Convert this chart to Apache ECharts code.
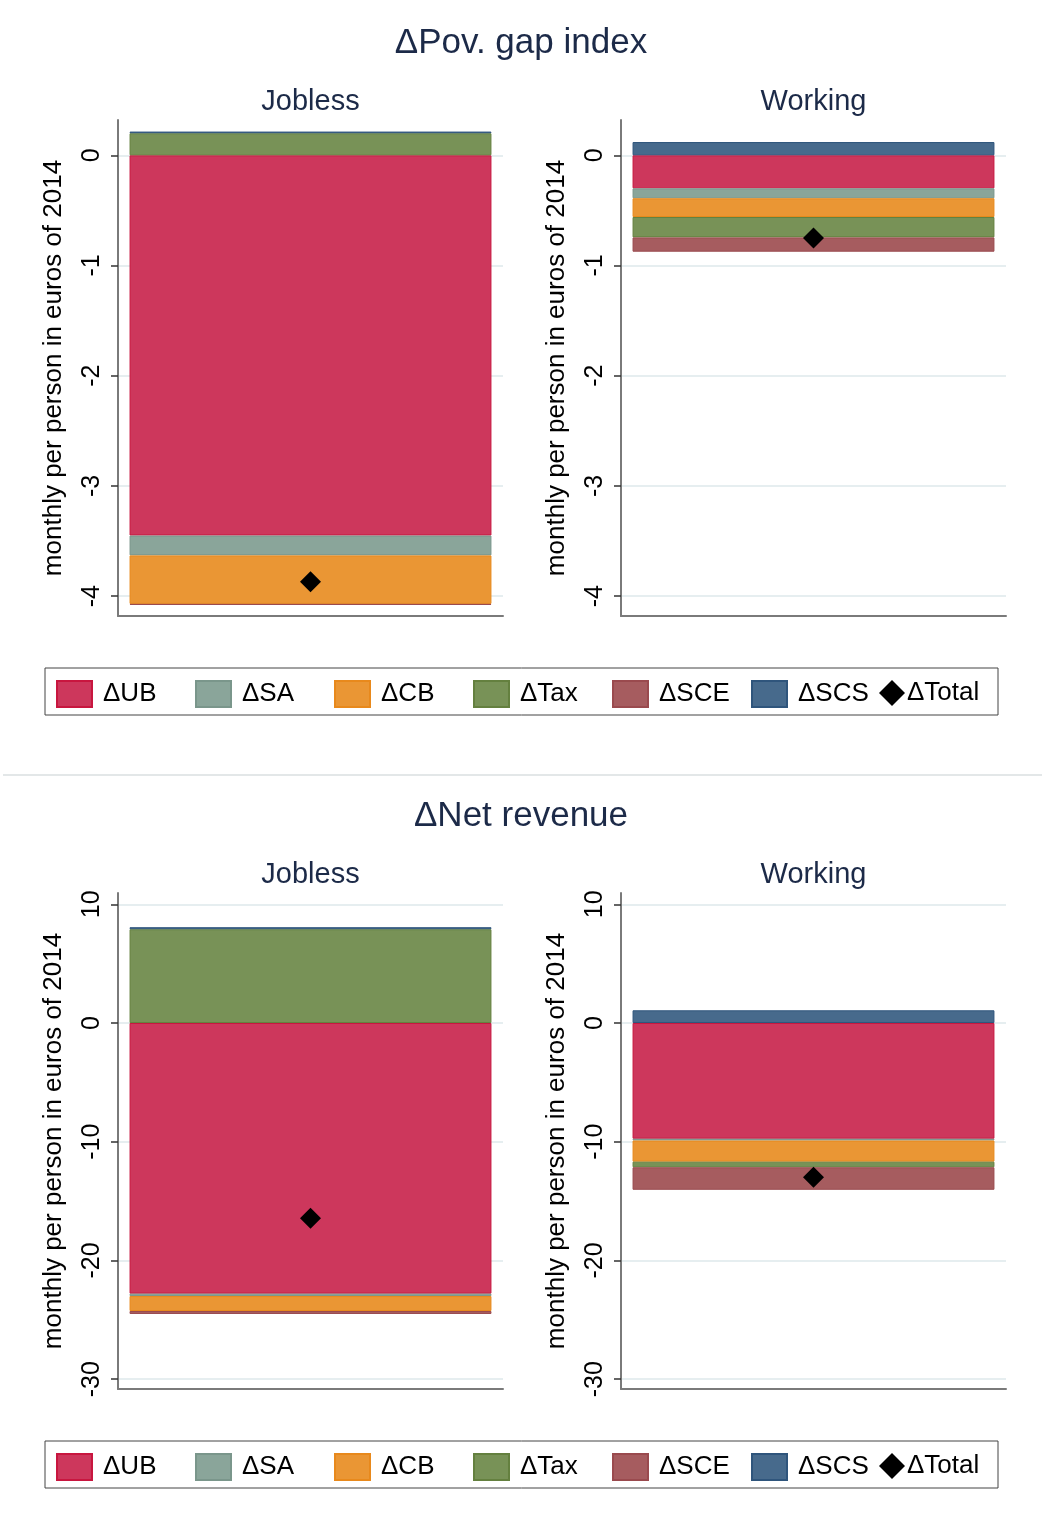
<!DOCTYPE html>
<html>
<head>
<meta charset="utf-8">
<title>ΔPov. gap index / ΔNet revenue</title>
<script src="https://cdn.jsdelivr.net/npm/echarts@6.0.0/dist/echarts.min.js"></script>
<style>
html, body { margin: 0; padding: 0; background: #fff; }
#main { width: 1042px; height: 1530px; }
</style>
</head>
<body>
<div id="main"></div>
<script>
// groups (one per panel) and components of the change
var groups = ['Jobless', 'Working'];
var parts = ['ΔUB', 'ΔSA', 'ΔCB', 'ΔTax', 'ΔSCE', 'ΔSCS'];

// ΔPov. gap index : [Jobless, Working]
var povUB  = [-3.45, -0.30];
var povSA  = [-0.18, -0.09];
var povCB  = [-0.44, -0.17];
var povTax = [0.20, -0.185];
var povSCE = [-0.01, -0.13];
var povSCS = [0.015, 0.12];
var povTotal = [-3.87, -0.75];

// ΔNet revenue : [Jobless, Working]
var revUB  = [-22.8, -9.75];
var revSA  = [-0.20, -0.15];
var revCB  = [-1.26, -1.78];
var revTax = [7.90, -0.47];
var revSCE = [-0.25, -1.90];
var revSCS = [0.17, 1.07];
var revTotal = [-16.44, -13.0];

// tick labels
var povTicks = [-4, -3, -2, -1, 0];
var revTicks = [-30, -20, -10, 0, 10];

var povParts = [povUB, povSA, povCB, povTax, povSCE, povSCS];
var revParts = [revUB, revSA, revCB, revTax, revSCE, revSCS];

var fills   = ['#cd375c', '#8aa59a', '#ea9634', '#789257', '#a65c5f', '#476a8c'];
var borders = ['#c8163f', '#7a968b', '#e8891c', '#64803f', '#9a4a4e', '#2f557c'];

var font = "'Liberation Sans', Arial, sans-serif";
var titleColor = '#1c2a48';
var axisGray = '#7a7a7a';

// panel layout: pov jobless, pov working, rev jobless, rev working
var panels = [
  {left: 118, top: 120, values: povParts, total: povTotal, g: 0, min: -4.18, max: 0.32, ticks: povTicks},
  {left: 621, top: 120, values: povParts, total: povTotal, g: 1, min: -4.18, max: 0.32, ticks: povTicks},
  {left: 118, top: 893, values: revParts, total: revTotal, g: 0, min: -30.83, max: 10.95, ticks: revTicks},
  {left: 621, top: 893, values: revParts, total: revTotal, g: 1, min: -30.83, max: 10.95, ticks: revTicks}
];

var grid = [], xAxis = [], yAxis = [], series = [], title = [];

title.push({text: 'ΔPov. gap index', left: 'center', top: 26, padding: 0,
  textStyle: {fontFamily: font, fontSize: 35, fontWeight: 'normal', color: titleColor}});
title.push({text: 'ΔNet revenue', left: 'center', top: 799, padding: 0,
  textStyle: {fontFamily: font, fontSize: 35, fontWeight: 'normal', color: titleColor}});

panels.forEach(function (p, i) {
  grid.push({left: p.left, top: p.top, width: 385, height: 496});

  title.push({text: groups[p.g], left: p.left + 192.5, top: p.top - 33, textAlign: 'center', padding: 0,
    textStyle: {fontFamily: font, fontSize: 29, fontWeight: 'normal', color: titleColor}});

  xAxis.push({
    type: 'category', gridIndex: i, data: [groups[p.g]],
    axisLine: {onZero: false, lineStyle: {color: axisGray, width: 2}},
    axisTick: {show: false}, axisLabel: {show: false}, splitLine: {show: false}
  });

  yAxis.push({
    type: 'value', gridIndex: i, min: p.min, max: p.max,
    name: 'monthly per person in euros of 2014', nameLocation: 'middle', nameRotate: 90, nameGap: 51,
    nameTextStyle: {fontFamily: font, fontSize: 26, color: '#000'},
    axisLine: {show: true, lineStyle: {color: axisGray, width: 2}},
    axisTick: {show: true, length: 7, customValues: p.ticks, lineStyle: {color: '#333', width: 1.5}},
    axisLabel: {customValues: p.ticks, rotate: 90, margin: 13, fontFamily: font, fontSize: 25, color: '#000'},
    splitLine: {show: false}
  });

  // light grid lines under the bars
  series.push({
    type: 'line', name: 'grid' + i, xAxisIndex: i, yAxisIndex: i, data: ['-'], z: 0, silent: true,
    markLine: {
      z: 0, silent: true, symbol: 'none', label: {show: false},
      lineStyle: {color: '#e6eef0', width: 2, type: 'solid'},
      data: p.ticks.map(function (t) { return {yAxis: t}; })
    }
  });

  parts.forEach(function (name, k) {
    series.push({
      type: 'bar', name: name, xAxisIndex: i, yAxisIndex: i, stack: 's' + i, z: 2,
      barWidth: '94%', data: [p.values[k][p.g]],
      itemStyle: {color: fills[k], borderColor: borders[k], borderWidth: 1}
    });
  });

  series.push({
    type: 'scatter', name: 'ΔTotal', xAxisIndex: i, yAxisIndex: i, z: 5,
    symbol: 'diamond', symbolSize: 21, data: [p.total[p.g]],
    itemStyle: {color: '#000', opacity: 1}
  });
});

// legends: one per entry so the spacing matches the boxes
var legend = [];
var legendNames = parts.concat(['ΔTotal']);
var legendLeft = [56, 195, 334, 473, 612, 751, 879];
[680, 1453].forEach(function (top) {
  legendNames.forEach(function (name, k) {
    var isTotal = name === 'ΔTotal';
    legend.push({
      data: [name], left: legendLeft[k], top: top,
      icon: isTotal ? 'diamond' : 'rect',
      itemWidth: isTotal ? 26 : 35, itemHeight: 26, itemGap: 0,
      selectedMode: false, padding: 0,
      textStyle: {fontFamily: font, fontSize: 26, color: '#000', padding: isTotal ? [0, 0, 0, -3] : [0, 0, 0, 6]}
    });
  });
});

var chart = echarts.init(document.getElementById('main'), null, {renderer: 'canvas'});
chart.setOption({
  backgroundColor: '#fff',
  animation: false,
  title: title,
  legend: legend,
  grid: grid,
  xAxis: xAxis,
  yAxis: yAxis,
  series: series,
  graphic: [
    {type: 'line', shape: {x1: 3, y1: 775, x2: 1042, y2: 775}, style: {stroke: '#e3e7e8', lineWidth: 2}, silent: true},
    {type: 'rect', shape: {x: 45, y: 668, width: 953, height: 47}, style: {fill: 'none', stroke: '#444', lineWidth: 1}, silent: true},
    {type: 'rect', shape: {x: 45, y: 1441, width: 953, height: 47}, style: {fill: 'none', stroke: '#444', lineWidth: 1}, silent: true}
  ]
});
</script>
</body>
</html>
